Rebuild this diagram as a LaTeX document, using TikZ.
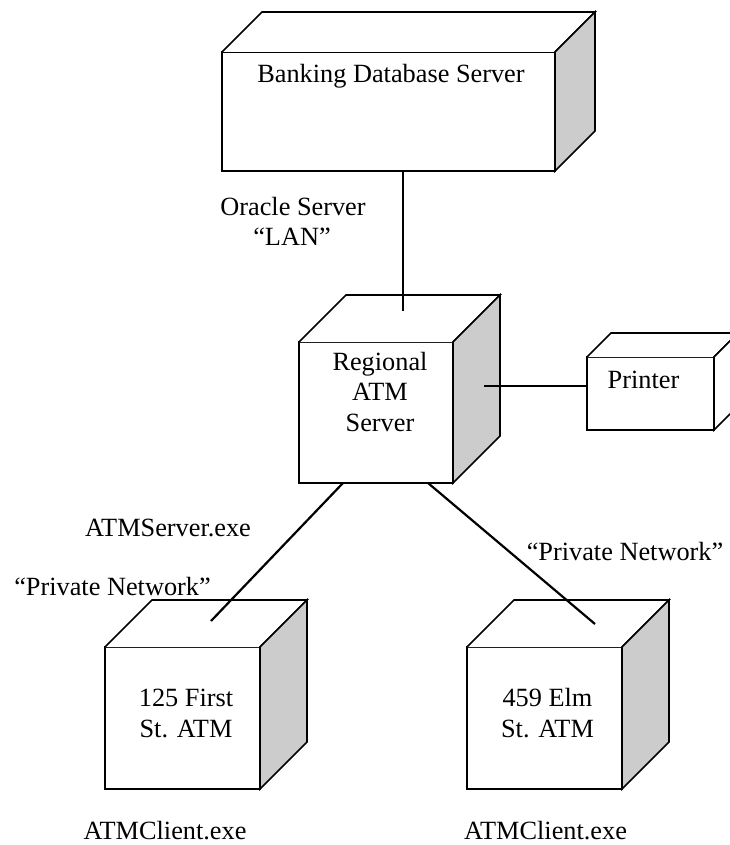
\documentclass[tikz,border=0pt]{standalone}
\usepackage{fontspec}
\setmainfont{Liberation Serif}
\definecolor{sidegray}{HTML}{CCCCCC}
\tikzset{
  edge/.style={line width=1.6pt, line join=miter},
  frontface/.style={draw, line width=1.6pt, fill=white, inner sep=0pt, outer sep=0pt, anchor=north west},
  conn/.style={line width=2.2pt},
  lbl/.style={font=\fontsize{26.3}{30}\selectfont, inner sep=0pt, anchor=base}
}
% #1 name, #2 x, #3 y, #4 width, #5 height, #6 depth, #7 side fill
\newcommand{\cubenode}[7]{%
  \node[frontface, minimum width=#4pt, minimum height=#5pt] (#1) at (#2,#3) {};
  \draw[edge, fill=white] (#1.north west) -- ++(#6,-#6) -- ++(#4,0) -- (#1.north east);
  \draw[edge, fill=#7] (#1.north east) -- ++(#6,-#6) -- ++(0,#5) -- (#1.south east) -- cycle;
}
\begin{document}
\begin{tikzpicture}[x=1pt,y=-1pt]
\path[use as bounding box] (0,0) rectangle (730,845);
\clip (0,0) rectangle (730,845);

% boxes
\cubenode{bank}{222}{52}{333}{119}{40}{sidegray}
\cubenode{reg}{299}{342}{154}{141}{47}{sidegray}
\cubenode{prn}{587}{357}{127}{73}{24}{white}
\cubenode{atmA}{105}{647}{155}{142}{47}{sidegray}
\cubenode{atmB}{467}{647}{155}{142}{47}{sidegray}

% connector end points
\coordinate (bankS) at (403,171);
\coordinate (regT) at (403,311);
\coordinate (regR) at (484,386);
\coordinate (prnW) at (587,386);
\coordinate (regBL) at (343,483);
\coordinate (atmAT) at (211,621);
\coordinate (regBR) at (428,483);
\coordinate (atmBT) at (595,624);

\draw[conn] (bankS) -- (regT);
\draw[conn] (regR) -- (prnW);
\draw[conn] (regBL) -- (atmAT);
\draw[conn] (regBR) -- (atmBT);

% labels
\node[lbl] (bankt) at (391,83) {Banking Database Server};
\node[lbl] (orc1) at (293,215) {Oracle Server};
\node[lbl] (orc2) at (292,245) {“LAN”};
\node[lbl] (reg1) at (380,370) {Regional};
\node[lbl] (reg2) at (380,400) {ATM};
\node[lbl] (reg3) at (380,431) {Server};
\node[lbl] (prnt) at (643.5,388) {Printer};
\node[lbl] (srv) at (168,536) {ATMServer.exe};
\node[lbl] (pnL) at (112.5,595) {“Private Network”};
\node[lbl] (pnR) at (625,560) {“Private Network”};
\node[lbl] (a1) at (186,706) {125 First};
\node[lbl] (a2) at (186,737) {St. ATM};
\node[lbl] (b1) at (547.5,706) {459 Elm};
\node[lbl] (b2) at (547.5,737) {St. ATM};
\node[lbl] (cl1) at (165,839) {ATMClient.exe};
\node[lbl] (cl2) at (545.5,839) {ATMClient.exe};
\end{tikzpicture}
\end{document}
